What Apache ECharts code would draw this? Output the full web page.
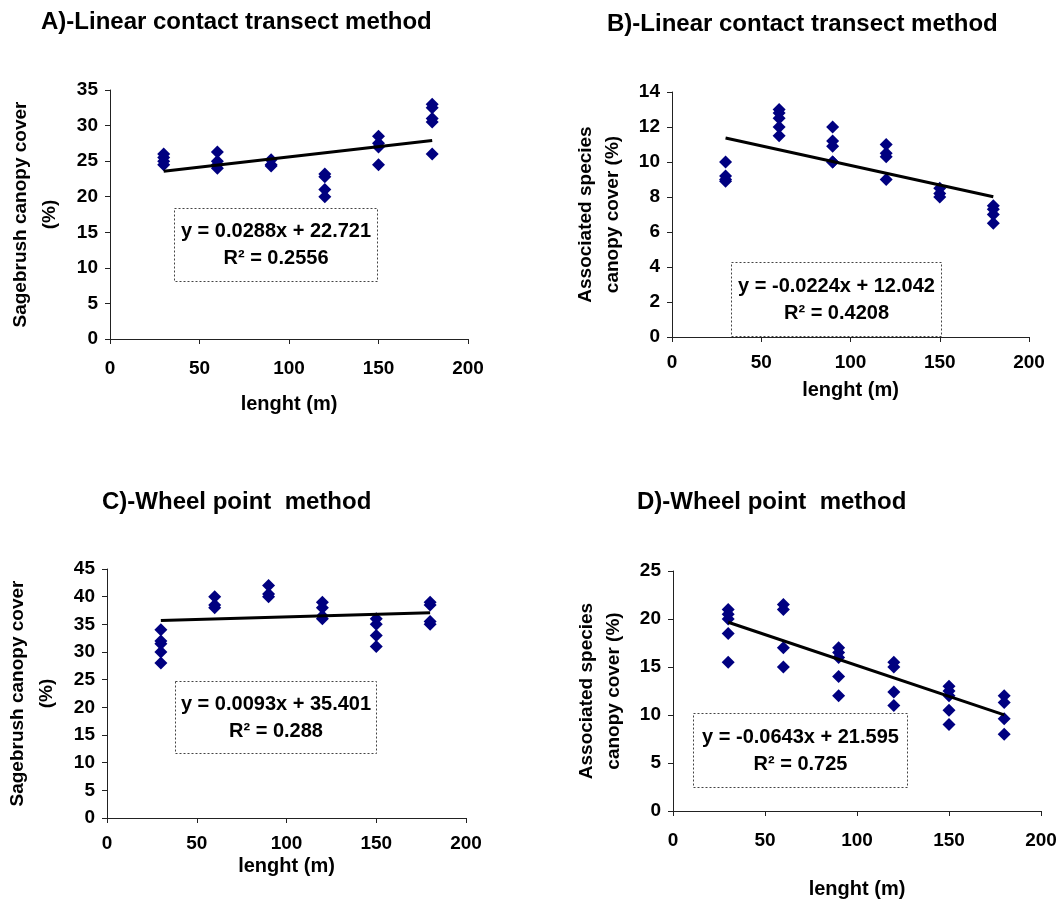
<!DOCTYPE html>
<html><head><meta charset="utf-8">
<script src="https://cdn.jsdelivr.net/npm/echarts@6/dist/echarts.min.js"></script>
<style>html,body{margin:0;padding:0;background:#fff}#c{width:1062px;height:900px}</style>
</head><body><div id="c"></div><script>
// ---- data ----
const titles = ['A)-Linear contact transect method', 'B)-Linear contact transect method', 'C)-Wheel point  method', 'D)-Wheel point  method'];
const xAxisName = 'lenght (m)';
const yAxisNames = ['Sagebrush canopy cover\n(%)', 'Associated species\ncanopy cover (%)', 'Sagebrush canopy cover\n(%)', 'Associated species\ncanopy cover (%)'];
const xTickLabels = [0, 50, 100, 150, 200];
const yMaxes = [35, 14, 45, 25];
const yIntervals = [5, 2, 5, 5];

const lengthA = [30,30,30,30, 60,60,60,60, 90,90,90, 120,120,120,120, 150,150,150,150, 180,180,180,180,180];
const coverA  = [26,25.5,25,24.5, 26.3,25,24.5,24, 25.2,24.5,24.3, 23.2,22.8,21,20, 28.5,27.5,27,24.5, 33,32.5,31,30.5,26];

const lengthB = [30,30,30,30, 60,60,60,60,60, 90,90,90,90,90, 120,120,120,120, 150,150,150, 180,180,180,180];
const coverB  = [10,9.2,9,8.9, 13,12.8,12.5,12,11.5, 12,11.2,10.9,10,10, 11,10.5,10.3,9, 8.5,8.2,8, 7.5,7.3,7,6.5];

const lengthC = [30,30,30,30,30, 60,60,60, 90,90,90, 120,120,120,120, 150,150,150,150, 180,180,180,180];
const coverC  = [34,32,31.5,30,28, 40,38.5,38, 42,40.5,40, 39,38,36.5,36, 36,35,33,31, 39,38.5,35.5,35];

const lengthD = [30,30,30,30,30, 60,60,60,60, 90,90,90,90,90, 120,120,120,120, 150,150,150,150,150, 180,180,180,180];
const coverD  = [21,20.5,20,18.5,15.5, 21.5,21,17,15, 17,16.5,16,14,12, 15.5,15,12.4,11, 13,12.5,12,10.5,9, 12,11.3,9.6,8];

// trend line end points (read from the fitted equations shown)
const trendA = [[30, 23.585], [180, 27.905]];
const trendB = [[30, 11.370], [180, 8.010]];
const trendC = [[30, 35.680], [180, 37.075]];
const trendD = [[30, 19.666], [180, 10.021]];

const equations = ['y = 0.0288x + 22.721\nR² = 0.2556', 'y = -0.0224x + 12.042\nR² = 0.4208', 'y = 0.0093x + 35.401\nR² = 0.288', 'y = -0.0643x + 21.595\nR² = 0.725'];

// ---- layout ----
const lengths = [lengthA, lengthB, lengthC, lengthD];
const covers = [coverA, coverB, coverC, coverD];
const trends = [trendA, trendB, trendC, trendD];
const grids = [
  {left: 110, top: 90, width: 358, height: 249},
  {left: 672, top: 92, width: 357, height: 245},
  {left: 107, top: 569, width: 359, height: 249},
  {left: 673, top: 571, width: 368, height: 244}
];
const titlePos = [{left: 41, top: 10}, {left: 607, top: 12}, {left: 102, top: 490}, {left: 637, top: 490}];
const xNameGap = [55, 43, 38, 68];
const xLabelMargin = [20, 16, 16, 20];
const yNameLH = [29, 27, 29, 27];
const boxes = [
  {x: 174, y: 208, w: 203, h: 73},
  {x: 731, y: 262, w: 210, h: 74},
  {x: 175, y: 681, w: 201, h: 72},
  {x: 693, y: 713, w: 214, h: 74}
];

const FONT = '"Liberation Sans", Arial, sans-serif';
const option = {
  animation: false,
  backgroundColor: '#fff',
  title: titles.map((t, i) => ({
    text: t, left: titlePos[i].left, top: titlePos[i].top, padding: 0,
    textStyle: {fontFamily: FONT, fontWeight: 'bold', fontSize: 24, color: '#000'}
  })),
  grid: grids.map(g => Object.assign({containLabel: false}, g)),
  xAxis: grids.map((g, i) => ({
    gridIndex: i, type: 'value', min: 0, max: 200, interval: 50,
    name: xAxisName, nameLocation: 'middle', nameGap: xNameGap[i],
    nameTextStyle: {fontFamily: FONT, fontWeight: 'bold', fontSize: 20, color: '#000'},
    axisLine: {show: true, onZero: false, lineStyle: {color: '#222', width: 1}},
    axisTick: {show: true, length: 5, lineStyle: {color: '#222'}},
    splitLine: {show: false},
    axisLabel: {margin: xLabelMargin[i], fontFamily: FONT, fontWeight: 'bold', fontSize: 19, color: '#000',
      formatter: v => xTickLabels.includes(v) ? String(v) : ''}
  })),
  yAxis: grids.map((g, i) => ({
    gridIndex: i, type: 'value', min: 0, max: yMaxes[i], interval: yIntervals[i],
    name: yAxisNames[i], nameLocation: 'middle', nameRotate: 90, nameGap: 46,
    nameTextStyle: {fontFamily: FONT, fontWeight: 'bold', fontSize: 19, color: '#000', lineHeight: yNameLH[i], align: 'center'},
    axisLine: {show: true, lineStyle: {color: '#222', width: 1}},
    axisTick: {show: true, length: 5, lineStyle: {color: '#222'}},
    splitLine: {show: false},
    axisLabel: {margin: 12, fontFamily: FONT, fontWeight: 'bold', fontSize: 19, color: '#000'}
  })),
  series: [].concat(
    covers.map((c, i) => ({
      type: 'scatter', xAxisIndex: i, yAxisIndex: i,
      symbol: 'diamond', symbolSize: 13,
      itemStyle: {color: '#000080', opacity: 1},
      data: c.map((v, k) => [lengths[i][k], v]), z: 3
    })),
    trends.map((t, i) => ({
      type: 'line', xAxisIndex: i, yAxisIndex: i, showSymbol: false, symbol: 'none',
      lineStyle: {color: '#000', width: 3}, data: t, z: 4
    }))
  ),
  graphic: boxes.map((b, i) => ({
    type: 'group', left: b.x, top: b.y, z: 10,
    children: [
      {type: 'rect', shape: {x: 0, y: 0, width: b.w, height: b.h},
        style: {fill: '#fff', stroke: '#444', lineWidth: 1, lineDash: [2, 2]}},
      {type: 'text', x: b.w / 2, y: b.h / 2,
        style: {text: equations[i], fontFamily: FONT, fontWeight: 'bold', fontSize: 20, lineHeight: 27,
          fill: '#000', align: 'center', verticalAlign: 'middle'}}
    ]
  }))
};
const chart = echarts.init(document.getElementById('c'), null, {renderer: 'canvas'});
chart.setOption(option);
</script></body></html>
